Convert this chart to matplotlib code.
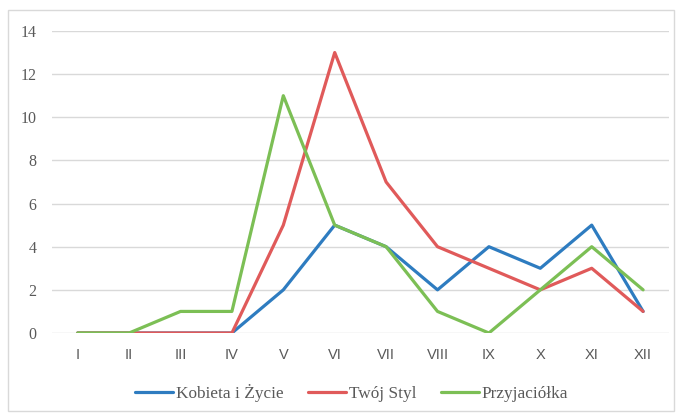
import matplotlib.pyplot as plt
from matplotlib.patches import Rectangle

months = ['I', 'II', 'III', 'IV', 'V', 'VI', 'VII', 'VIII', 'IX', 'X', 'XI', 'XII']
kobieta = [0, 0, 0, 0, 2, 5, 4, 2, 4, 3, 5, 1]
twoj_styl = [0, 0, 0, 0, 5, 13, 7, 4, 3, 2, 3, 1]
przyjaciolka = [0, 0, 1, 1, 11, 5, 4, 1, 0, 2, 4, 2]

plt.rcParams['font.family'] = ['Liberation Serif', 'DejaVu Serif']

fig = plt.figure(figsize=(6.79, 4.13), dpi=100)
ax = fig.add_axes([0.0766, 0.1937, 0.9084, 0.7313])

x = range(len(months))
ax.plot(x, kobieta, color='#2E7CC0', lw=2.3, label='Kobieta i Życie', solid_capstyle='round')
ax.plot(x, twoj_styl, color='#E05A5A', lw=2.3, label='Twój Styl', solid_capstyle='round')
ax.plot(x, przyjaciolka, color='#7CBF55', lw=2.3, label='Przyjaciółka', solid_capstyle='round')

ax.set_xlim(-0.5, 11.5)
ax.set_ylim(0, 14)
ax.set_yticks(range(0, 15, 2))
ax.set_xticks(list(x))
ax.set_xticklabels(months, family=['Liberation Sans', 'DejaVu Sans'], fontsize=10.5, color='#595959')
for t in ax.get_yticklabels():
    t.set_fontsize(11.5)
    t.set_color('#595959')
ax.tick_params(length=0)
ax.tick_params(axis='x', pad=11)
ax.tick_params(axis='y', pad=11)
ax.yaxis.grid(True, color='#D9D9D9', lw=1)
ax.set_axisbelow(True)
for s in ax.spines.values():
    s.set_visible(False)

leg = fig.legend(loc='center', bbox_to_anchor=(0.518, 0.048), ncol=3, frameon=False,
                 fontsize=12.4, handlelength=2.2, handletextpad=0.15, columnspacing=1.45)
for t in leg.get_texts():
    t.set_color('#595959')

fig.patches.append(Rectangle((8 / 679, 2 / 413), 666 / 679, 401 / 413, transform=fig.transFigure,
                             fill=False, edgecolor='#D9D9D9', lw=1))

fig.savefig('out.png', dpi=100)
